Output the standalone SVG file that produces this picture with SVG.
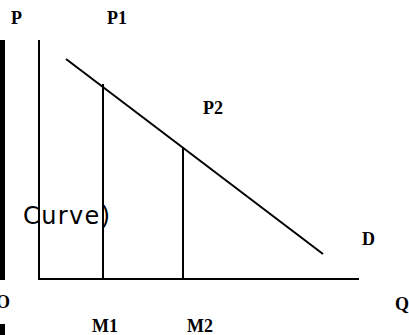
<svg xmlns="http://www.w3.org/2000/svg" width="409" height="335" viewBox="0 0 409 335">
<style>
.lbl{font-family:"Liberation Serif","Times New Roman",serif;font-weight:bold;font-size:18px;fill:#000}
.ln{stroke:#000;stroke-width:2;fill:none}
</style>
<rect width="409" height="335" fill="#fff"/>
<rect x="0" y="40" width="5" height="240" fill="#000"/>
<rect x="0" y="324" width="5" height="11" fill="#000"/>
<text x="23" y="224" font-family="'DejaVu Sans',sans-serif" font-size="24" textLength="87" lengthAdjust="spacing" fill="#000">Curve)</text>
<g id="connectors">
<line class="ln" x1="39" y1="40" x2="39" y2="280"/>
<line class="ln" x1="38" y1="279" x2="359" y2="279"/>
<line class="ln" x1="66" y1="59" x2="323" y2="254"/>
<line class="ln" x1="103" y1="84" x2="103" y2="279"/>
<line class="ln" x1="183" y1="147" x2="183" y2="279"/>
</g>
<g id="label-P"><text class="lbl" x="11" y="24">P</text></g>
<g id="label-P1"><text class="lbl" x="107" y="24">P1</text></g>
<g id="label-P2"><text class="lbl" x="203" y="114">P2</text></g>
<g id="label-D"><text class="lbl" x="362" y="245">D</text></g>
<g id="label-O"><text class="lbl" x="-4" y="308">O</text></g>
<g id="label-Q"><text class="lbl" x="395" y="310">Q</text></g>
<g id="label-M1"><text class="lbl" x="92" y="332">M1</text></g>
<g id="label-M2"><text class="lbl" x="187" y="332">M2</text></g>
</svg>
